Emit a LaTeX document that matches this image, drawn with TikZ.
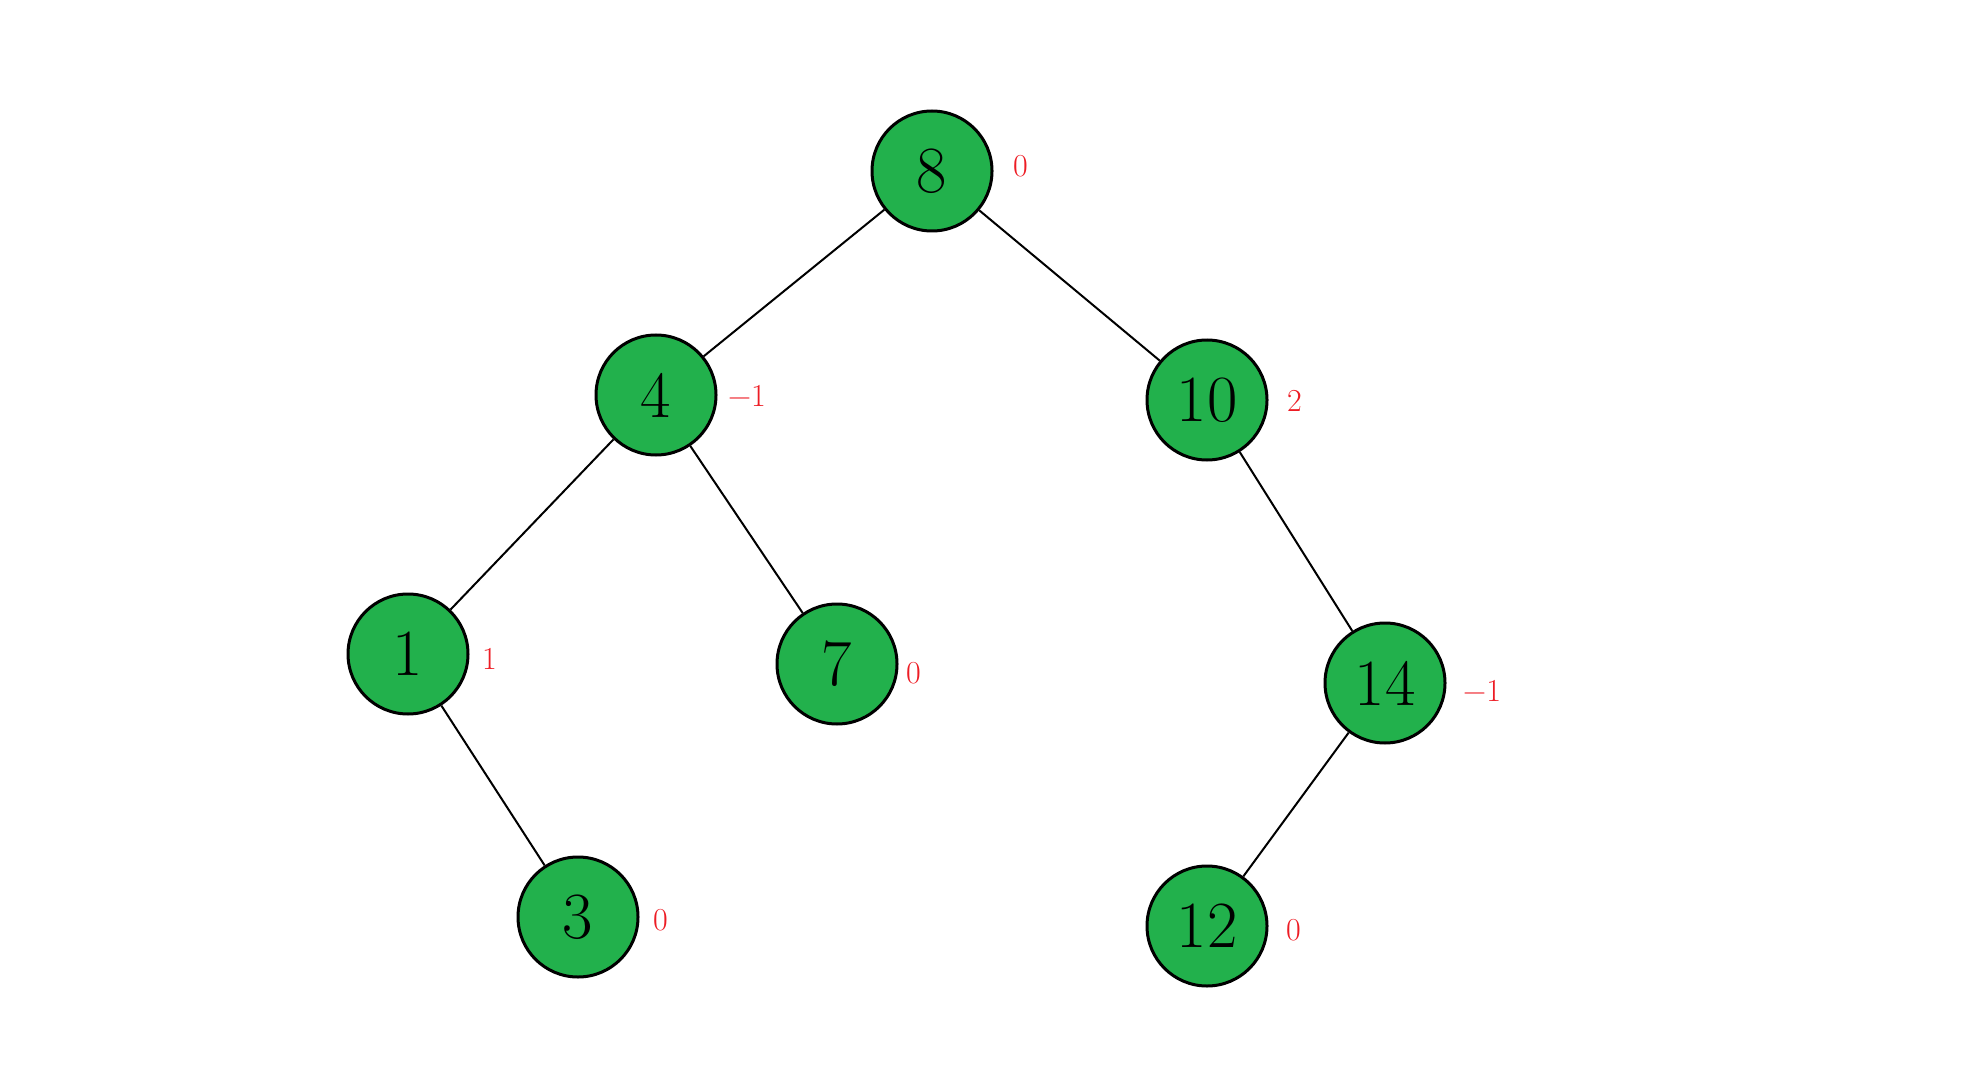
\documentclass[tikz,border=0pt]{standalone}
\usepackage{fontspec}
\definecolor{nodegreen}{HTML}{22B14C}
\definecolor{lblred}{HTML}{ED1C24}
\begin{document}
\begin{tikzpicture}[x=1pt,y=-1pt,
  tn/.style={circle,draw=black,line width=3pt,fill=nodegreen,minimum size=120pt,inner sep=0pt,font=\fontsize{66}{66}\selectfont},
  bl/.style={text=lblred,anchor=west,inner sep=0pt,font=\fontsize{32}{32}\selectfont},
  edge/.style={line width=2pt}]
\useasboundingbox (0,0) rectangle (1973,1083);
\node[tn] (n8) at (932,171) {8};
\node[tn] (n4) at (656,395) {4};
\node[tn] (n10) at (1207,400) {10};
\node[tn] (n1) at (408,654) {1};
\node[tn] (n7) at (837,664) {7};
\node[tn] (n14) at (1385,683) {14};
\node[tn] (n3) at (578,917) {3};
\node[tn] (n12) at (1207,926) {12};
\draw[edge] (n8) -- (n4);
\draw[edge] (n8) -- (n10);
\draw[edge] (n4) -- (n1);
\draw[edge] (n4) -- (n7);
\draw[edge] (n1) -- (n3);
\draw[edge] (n10) -- (n14);
\draw[edge] (n14) -- (n12);
\node[bl] (b8) at (1013,166) {0};
\node[bl] (b4) at (728,396) {\char"2212 1};
\node[bl] (b10) at (1287,401) {2};
\node[bl] (b1) at (482,659) {1};
\node[bl] (b7) at (906,673) {0};
\node[bl] (b14) at (1463,691) {\char"2212 1};
\node[bl] (b3) at (653,920) {0};
\node[bl] (b12) at (1286,930) {0};
\end{tikzpicture}
\end{document}
